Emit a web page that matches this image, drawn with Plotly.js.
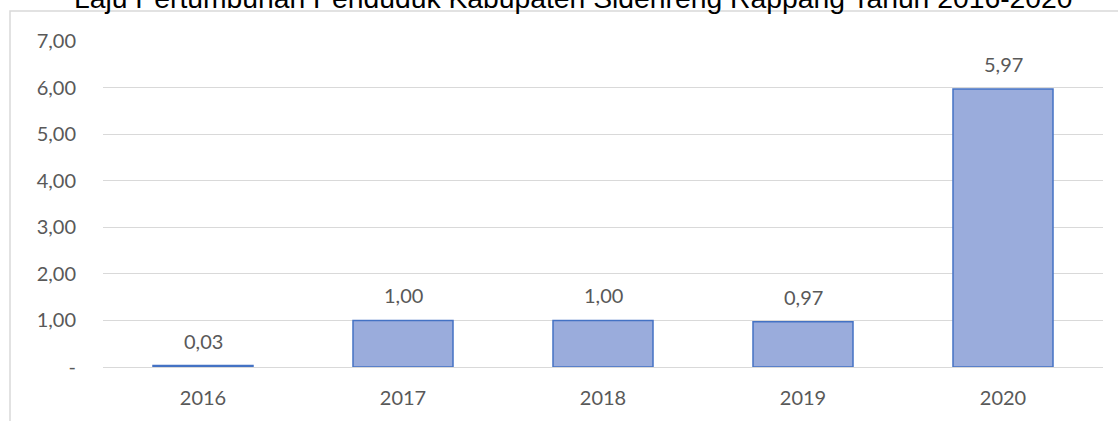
<!DOCTYPE html>
<html>
<head>
<meta charset="utf-8">
<script src="https://cdn.plot.ly/plotly-3.0.1.min.js"></script>
<style>html,body{margin:0;padding:0;background:#fff;}#chart{width:1118px;height:421px;}</style>
</head>
<body>
<div id="chart"></div>
<script>
const years = ['2016', '2017', '2018', '2019', '2020'];
const growth = [0.03, 1.00, 1.00, 0.97, 5.97];
const labels = ['0,03', '1,00', '1,00', '0,97', '5,97'];
const tickValues = [0, 1, 2, 3, 4, 5, 6, 7];
const tickLabels = ['-', '1,00', '2,00', '3,00', '4,00', '5,00', '6,00', '7,00'];
const titleText = 'Laju Pertumbuhan Penduduk Kabupaten Sidenreng Rappang Tahun 2016-2020';

const W = 1118, H = 421;
const m = {l: 103, r: 15, t: 41, b: 54};
const pw = W - m.l - m.r, ph = H - m.t - m.b;
const px = x => (x - m.l) / pw;
const py = y => (H - m.b - y) / ph;
const FONT = 'Lato, "Open Sans", sans-serif';

const trace = {
  type: 'bar',
  x: years,
  y: growth,
  marker: {color: '#9aacdc', line: {color: '#4472c4', width: 1.5}},
  hoverinfo: 'none'
};

const annotations = years.map((yr, i) => ({
  x: i, y: growth[i], xref: 'x', yref: 'y',
  text: labels[i], showarrow: false,
  yanchor: 'bottom', yshift: 11,
  font: {family: FONT, size: 20, color: '#595959'}
}));
annotations.push({
  xref: 'paper', yref: 'paper', x: px(573), y: py(8), xanchor: 'center', yanchor: 'bottom',
  yshift: -8,
  text: titleText, showarrow: false,
  font: {family: '"Liberation Sans", Arial, sans-serif', size: 28.3, color: '#000'}
});

const layout = {
  width: W, height: H,
  margin: m,
  paper_bgcolor: '#fff', plot_bgcolor: '#fff',
  showlegend: false,
  bargap: 0.5,
  xaxis: {
    type: 'category',
    range: [-0.5, years.length - 0.5],
    showgrid: false, zeroline: false, showline: false, ticks: '',
    tickfont: {family: FONT, size: 20, color: '#595959'},
    ticklabelstandoff: 17
  },
  yaxis: {
    range: [0, 7],
    tickvals: tickValues, ticktext: tickLabels,
    showgrid: true, gridcolor: '#d9d9d9', gridwidth: 1,
    zeroline: true, zerolinecolor: '#d9d9d9', zerolinewidth: 1,
    showline: false, ticks: '',
    tickfont: {family: FONT, size: 20, color: '#595959'},
    ticklabelstandoff: 26
  },
  shapes: [{
    type: 'rect', xref: 'paper', yref: 'paper',
    x0: px(10), x1: px(1130), y0: py(11), y1: py(440),
    line: {color: '#d9d9d9', width: 1.5}, fillcolor: 'rgba(0,0,0,0)', layer: 'below'
  }],
  annotations: annotations
};

Plotly.newPlot('chart', [trace], layout, {displayModeBar: false, staticPlot: true});
</script>
</body>
</html>
